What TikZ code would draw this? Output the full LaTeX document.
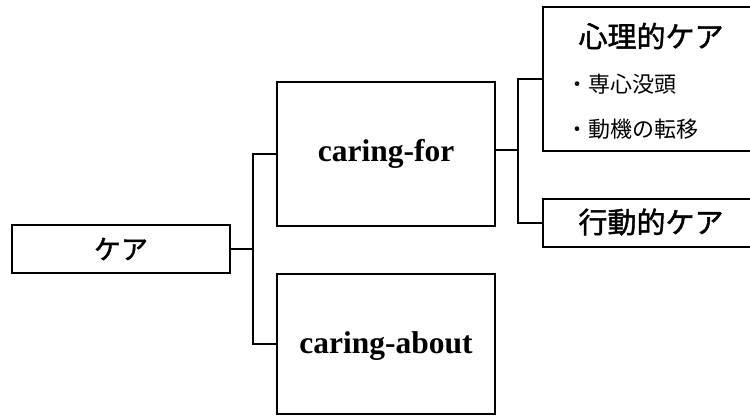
\documentclass[tikz,border=0pt]{standalone}
\usepackage{fontspec}
\setmainfont{Liberation Serif}
\newfontfamily\jp{Noto Sans CJK JP}
\newfontfamily\jpm[RawFeature={embolden=1.5}]{Noto Sans CJK JP}
\begin{document}
\begin{tikzpicture}[x=1bp,y=-1bp,
  box/.style={draw,line width=1.8bp,rectangle,inner sep=0pt},
  conn/.style={line width=1.8bp},
  jphead/.style={font=\jpm\fontsize{29bp}{32bp}\selectfont},
  jpitem/.style={font=\jp\fontsize{22bp}{25bp}\selectfont},
  entitle/.style={font=\bfseries\fontsize{31.5bp}{34bp}\selectfont}]
\useasboundingbox (0,0) rectangle (750,416);
\clip (0,0) rectangle (750,416);
% boxes
\node[box,minimum width=218bp,minimum height=48bp,font=\jpm\fontsize{27bp}{30bp}\selectfont] (kea) at (121,249) {ケア};
\node[box,minimum width=218bp,minimum height=144bp,entitle] (cf) at (386,154) {caring-for};
\node[box,minimum width=218bp,minimum height=140bp] (ca) at (386,344) {};
\node[entitle] (catext) at (386,346) {caring-about};
\node[box,minimum width=220bp,minimum height=144bp] (psy) at (653,79) {};
\node[jphead] (psyt) at (651,36) {心理的ケア};
\node[jpitem,anchor=west] (i1) at (563,84) {・専心没頭};
\node[jpitem,anchor=west] (i2) at (563,129) {・動機の転移};
\node[box,minimum width=220bp,minimum height=48bp] (act) at (653,223) {};
\node[jphead] (actt) at (651,222) {行動的ケア};
% connectors
\coordinate (j1) at (253,249);
\coordinate (j2) at (518,150);
\draw[conn] (kea.east) -- (j1);
\draw[conn] (cf.west) -| (j1) |- (ca.west);
\draw[conn] (j2 -| cf.east) -- (j2);
\draw[conn] (psy.west) -| (j2) |- (act.west);
\end{tikzpicture}
\end{document}
